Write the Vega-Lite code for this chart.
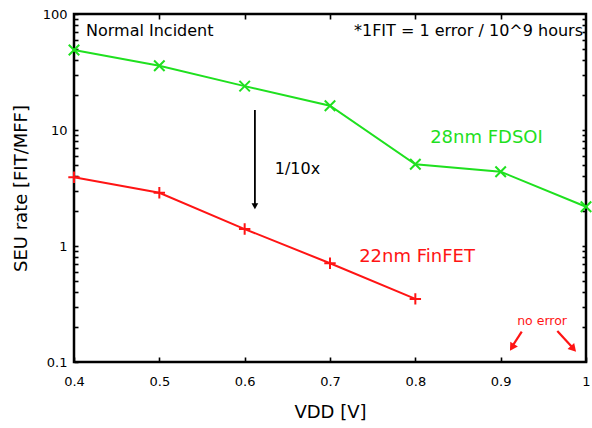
{
  "$schema": "https://vega.github.io/schema/vega-lite/v6.json",
  "width": 512,
  "height": 348,
  "autosize": "none",
  "padding": {"left": 74, "top": 14, "right": 6, "bottom": 66},
  "background": "white",
  "config": {
    "view": {"stroke": "black", "strokeWidth": 2.5},
    "font": "DejaVu Sans",
    "axis": {
      "domain": false,
      "grid": false,
      "ticks": true,
      "labelFlush": false,
      "labelFont": "DejaVu Sans",
      "labelFontSize": 13,
      "labelColor": "black",
      "titleFont": "DejaVu Sans",
      "titleFontSize": 18,
      "titleFontWeight": "normal",
      "titleColor": "black",
      "tickColor": "black",
      "tickWidth": 1.6
    }
  },
  "datasets": {
    "series": [
      {"tech": "28nm FDSOI", "vdd": 0.4, "seu": 49},
      {"tech": "28nm FDSOI", "vdd": 0.5, "seu": 35.8},
      {"tech": "28nm FDSOI", "vdd": 0.6, "seu": 23.9},
      {"tech": "28nm FDSOI", "vdd": 0.7, "seu": 16.2},
      {"tech": "28nm FDSOI", "vdd": 0.8, "seu": 5.06},
      {"tech": "28nm FDSOI", "vdd": 0.9, "seu": 4.37},
      {"tech": "28nm FDSOI", "vdd": 1.0, "seu": 2.18},
      {"tech": "22nm FinFET", "vdd": 0.4, "seu": 3.91},
      {"tech": "22nm FinFET", "vdd": 0.5, "seu": 2.88},
      {"tech": "22nm FinFET", "vdd": 0.6, "seu": 1.4},
      {"tech": "22nm FinFET", "vdd": 0.7, "seu": 0.71},
      {"tech": "22nm FinFET", "vdd": 0.8, "seu": 0.35}
    ],
    "arrows": [
      {"id": "main", "vdd": 0.612, "seu": 14.9, "vdd2": 0.612, "seu2": 2.3},
      {"id": "ne1", "vdd": 0.9247, "seu": 0.1824, "vdd2": 0.9145, "seu2": 0.14},
      {"id": "ne2", "vdd": 0.9664, "seu": 0.185, "vdd2": 0.9836, "seu2": 0.1346}
    ],
    "heads": [
      {"id": "main", "vdd": 0.612, "seu": 2.2},
      {"id": "ne1", "vdd": 0.9133, "seu": 0.1334},
      {"id": "ne2", "vdd": 0.9853, "seu": 0.130}
    ]
  },
  "encoding": {
    "x": {"field": "vdd", "type": "quantitative", "scale": {"domain": [0.4, 1], "nice": false, "zero": false}, "axis": null},
    "y": {"field": "seu", "type": "quantitative", "scale": {"type": "log", "domain": [0.1, 100], "nice": false}, "axis": null}
  },
  "layer": [
    {
      "data": {"name": "series"},
      "mark": {"type": "point", "opacity": 0},
      "encoding": {
        "x": {"field": "vdd", "type": "quantitative", "scale": {"domain": [0.4, 1], "nice": false, "zero": false},
          "axis": {"orient": "bottom", "values": [0.4, 0.5, 0.6, 0.7, 0.8, 0.9, 1], "format": "~g", "tickSize": -5, "labelPadding": 18, "title": "VDD [V]", "titlePadding": 15}},
        "y": {"field": "seu", "type": "quantitative", "scale": {"type": "log", "domain": [0.1, 100], "nice": false},
          "axis": {"orient": "left", "values": [0.1, 0.2, 0.3, 0.4, 0.5, 0.6, 0.7, 0.8, 0.9, 1, 2, 3, 4, 5, 6, 7, 8, 9, 10, 20, 30, 40, 50, 60, 70, 80, 90, 100],
            "labelExpr": "(datum.value == 0.1 || datum.value == 1 || datum.value == 10 || datum.value == 100) ? datum.label : ''",
            "format": "~g", "tickSize": -4, "labelPadding": 11, "title": "SEU rate [FIT/MFF]", "titlePadding": 12}}
      }
    },
    {
      "data": {"name": "series"},
      "mark": {"type": "point", "opacity": 0},
      "encoding": {
        "x": {"field": "vdd", "type": "quantitative", "scale": {"domain": [0.4, 1], "nice": false, "zero": false},
          "axis": {"orient": "top", "values": [0.5, 0.6, 0.7, 0.8, 0.9], "tickSize": -5, "labels": false, "title": null}},
        "y": {"field": "seu", "type": "quantitative", "scale": {"type": "log", "domain": [0.1, 100], "nice": false},
          "axis": {"orient": "right", "values": [0.2, 0.3, 0.4, 0.5, 0.6, 0.7, 0.8, 0.9, 1, 2, 3, 4, 5, 6, 7, 8, 9, 10, 20, 30, 40, 50, 60, 70, 80, 90], "tickSize": -4, "labels": false, "title": null}}
      }
    },
    {
      "data": {"name": "series"},
      "mark": {"type": "line", "strokeWidth": 2},
      "encoding": {
        "color": {"field": "tech", "type": "nominal", "scale": {"domain": ["28nm FDSOI", "22nm FinFET"], "range": ["#1fe01f", "#ff1414"]}, "legend": null}
      }
    },
    {
      "data": {"name": "series"},
      "transform": [{"filter": "datum.tech == '28nm FDSOI'"}],
      "mark": {"type": "point", "shape": "M-1,-1L1,1M-1,1L1,-1", "filled": false, "stroke": "#1fe01f", "strokeWidth": 2, "size": 110, "opacity": 1}
    },
    {
      "data": {"name": "series"},
      "transform": [{"filter": "datum.tech == '22nm FinFET'"}],
      "mark": {"type": "point", "shape": "M-1,0L1,0M0,-1L0,1", "filled": false, "stroke": "#ff1414", "strokeWidth": 2, "size": 130, "opacity": 1}
    },
    {
      "data": {"name": "arrows"},
      "transform": [{"filter": "datum.id == 'main'"}],
      "mark": {"type": "rule", "color": "black", "strokeWidth": 1.8},
      "encoding": {
        "x2": {"field": "vdd2"},
        "y2": {"field": "seu2"}
      }
    },
    {
      "data": {"name": "arrows"},
      "transform": [{"filter": "datum.id != 'main'"}],
      "mark": {"type": "rule", "color": "#ff1414", "strokeWidth": 2.2},
      "encoding": {
        "x2": {"field": "vdd2"},
        "y2": {"field": "seu2"}
      }
    },
    {
      "data": {"name": "heads"},
      "transform": [{"filter": "datum.id == 'main'"}],
      "mark": {"type": "point", "shape": "triangle-down", "filled": true, "color": "black", "size": 45, "opacity": 1}
    },
    {
      "data": {"name": "heads"},
      "transform": [{"filter": "datum.id == 'ne1'"}],
      "mark": {"type": "point", "shape": "triangle-up", "filled": true, "color": "#ff1414", "size": 80, "angle": 212, "opacity": 1}
    },
    {
      "data": {"name": "heads"},
      "transform": [{"filter": "datum.id == 'ne2'"}],
      "mark": {"type": "point", "shape": "triangle-up", "filled": true, "color": "#ff1414", "size": 80, "angle": 138, "opacity": 1}
    },
    {
      "data": {"values": [{"text": "Normal Incident", "vdd": 0.4141, "seu": 71.3}]},
      "mark": {"type": "text", "align": "left", "baseline": "middle", "fontSize": 16, "font": "DejaVu Sans", "color": "black"},
      "encoding": {"text": {"field": "text"}}
    },
    {
      "data": {"values": [{"text": "*1FIT = 1 error / 10^9 hours", "vdd": 0.9965, "seu": 71.3}]},
      "mark": {"type": "text", "align": "right", "baseline": "middle", "fontSize": 16, "font": "DejaVu Sans", "color": "black"},
      "encoding": {"text": {"field": "text"}}
    },
    {
      "data": {"values": [{"text": "28nm FDSOI", "vdd": 0.8834, "seu": 8.61}]},
      "mark": {"type": "text", "align": "center", "baseline": "middle", "fontSize": 18, "font": "DejaVu Sans", "color": "#1fe01f"},
      "encoding": {"text": {"field": "text"}}
    },
    {
      "data": {"values": [{"text": "1/10x", "vdd": 0.6619, "seu": 4.61}]},
      "mark": {"type": "text", "align": "center", "baseline": "middle", "fontSize": 16, "font": "DejaVu Sans", "color": "black"},
      "encoding": {"text": {"field": "text"}}
    },
    {
      "data": {"values": [{"text": "22nm FinFET", "vdd": 0.802, "seu": 0.809}]},
      "mark": {"type": "text", "align": "center", "baseline": "middle", "fontSize": 18, "font": "DejaVu Sans", "color": "#ff1414"},
      "encoding": {"text": {"field": "text"}}
    },
    {
      "data": {"values": [{"text": "no error", "vdd": 0.9485, "seu": 0.2254}]},
      "mark": {"type": "text", "align": "center", "baseline": "middle", "fontSize": 12.5, "font": "DejaVu Sans", "color": "#ff1414"},
      "encoding": {"text": {"field": "text"}}
    }
  ],
  "resolve": {"axis": {"x": "independent", "y": "independent"}}
}
